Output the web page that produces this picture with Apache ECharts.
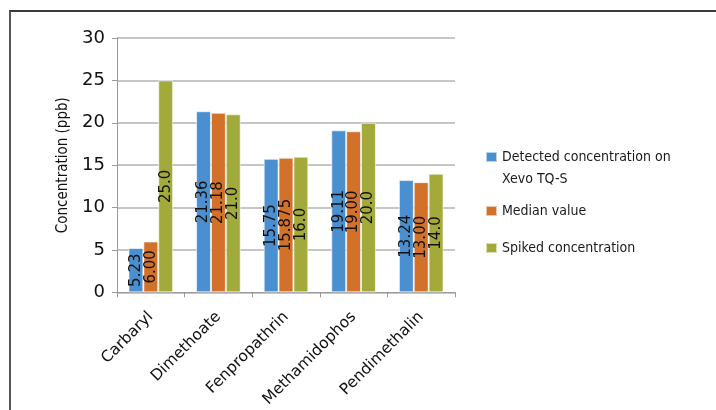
<!DOCTYPE html>
<html>
<head>
<meta charset="utf-8">
<script src="https://cdn.jsdelivr.net/npm/echarts@6/dist/echarts.min.js"></script>
<style>
  html, body { margin: 0; padding: 0; background: #fff; }
  #frame { position: absolute; left: 9px; top: 10px; width: 707px; height: 400px;
           border-top: 2px solid #3a3a3a; border-left: 2px solid #555; }
  #chart { position: absolute; left: 0; top: 0; width: 716px; height: 410px; }
</style>
</head>
<body>
<div id="frame"></div>
<div id="chart"></div>
<script>
// Pesticide residues: detected vs. median vs. spiked concentration (ppb)
const categories = ['Carbaryl', 'Dimethoate', 'Fenpropathrin', 'Methamidophos', 'Pendimethalin'];
const detected = ['5.23', '21.36', '15.75', '19.11', '13.24'];
const median = ['6.00', '21.18', '15.875', '19.00', '13.00'];
const spiked = ['25.0', '21.0', '16.0', '20.0', '14.0'];
const yTicks = { min: 0, max: 30, interval: 5 };

const seriesNames = ['Detected concentration on\nXevo TQ-S', 'Median value', 'Spiked concentration'];
const colors = ['#4A8FCF', '#D1712A', '#A1AA3A'];
const seriesValues = [detected, median, spiked];

const labelFont = 'DejaVu Sans';

function barSeries(i) {
  const txt = seriesValues[i];
  return {
    name: seriesNames[i],
    type: 'bar',
    barGap: '0%',
    barCategoryGap: '34%',
    itemStyle: { color: colors[i], borderColor: 'rgba(255,255,255,0.6)', borderWidth: 1 },
    label: {
      show: true,
      position: 'inside',
      rotate: 90,
      color: '#111',
      fontFamily: labelFont,
      fontSize: 15,
      formatter: p => txt[p.dataIndex]
    },
    data: txt.map(Number)
  };
}

const legendBase = {
  orient: 'vertical',
  left: 485,
  padding: 0,
  itemWidth: 11,
  itemHeight: 10,
  itemGap: 0,
  icon: 'rect',
  selectedMode: false,
  textStyle: { fontFamily: 'DejaVu Sans Condensed', fontSize: 14, color: '#1a1a1a', lineHeight: 22 }
};

const chart = echarts.init(document.getElementById('chart'), null, { renderer: 'canvas' });
chart.setOption({
  animation: false,
  color: colors,
  grid: { left: 117, right: 261, top: 38, bottom: 117, containLabel: false },
  legend: [
    Object.assign({}, legendBase, {
      top: 124,
      data: [seriesNames[0]],
      // blank first line keeps the marker level with the first text line
      formatter: name => '\n' + name
    }),
    Object.assign({}, legendBase, { top: 200, data: [seriesNames[1]] }),
    Object.assign({}, legendBase, { top: 237, data: [seriesNames[2]] })
  ],
  xAxis: {
    type: 'category',
    data: categories,
    axisLine: { lineStyle: { color: '#9a9a9a', width: 1 } },
    axisTick: { show: true, length: 5, lineStyle: { color: '#9a9a9a' } },
    axisLabel: {
      rotate: 45,
      margin: 22,
      color: '#111',
      fontFamily: 'DejaVu Sans',
      fontSize: 15.5,
      interval: 0
    }
  },
  yAxis: {
    type: 'value',
    min: yTicks.min,
    max: yTicks.max,
    interval: yTicks.interval,
    name: 'Concentration (ppb)',
    nameLocation: 'middle',
    nameGap: 46,
    nameTextStyle: { fontFamily: 'DejaVu Sans Condensed', fontSize: 15, color: '#111' },
    axisLine: { show: true, lineStyle: { color: '#9a9a9a', width: 1 } },
    axisTick: { show: true, length: 5, lineStyle: { color: '#9a9a9a' } },
    axisLabel: { color: '#111', fontFamily: 'DejaVu Sans', fontSize: 18, margin: 12 },
    splitLine: { lineStyle: { color: '#b3b3b3', width: 1.5 } }
  },
  series: [barSeries(0), barSeries(1), barSeries(2)]
});
</script>
</body>
</html>
